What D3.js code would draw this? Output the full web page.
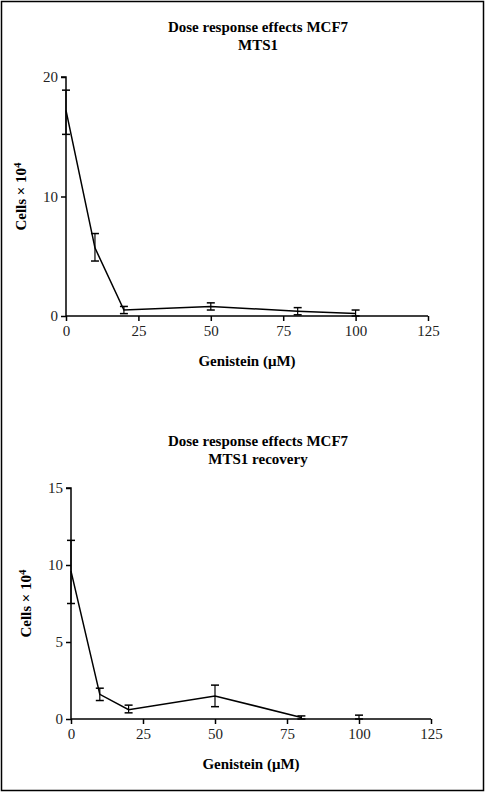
<!DOCTYPE html>
<html><head><meta charset="utf-8">
<script src="https://cdn.jsdelivr.net/npm/d3@7"></script>
<style>body{margin:0;background:#fff}svg{display:block}svg text{font-family:"Liberation Serif","DejaVu Serif",serif}</style>
</head><body>
<script>
const doses = [0, 10, 20, 50, 80, 100];
const xTicks = [0, 25, 50, 75, 100, 125];
const meanA = [17.2, 5.7, 0.5, 0.8, 0.4, 0.2];
const lowA = [15.2, 4.6, 0.2, 0.5, 0.1, 0.0];
const highA = [18.9, 6.9, 0.8, 1.1, 0.7, 0.5];
const yTicksA = [0, 10, 20];
const meanB = [9.6, 1.6, 0.6, 1.5, 0.1, 0.0];
const lowB = [7.5, 1.2, 0.4, 0.8, 0.0, 0.0];
const highB = [11.6, 2.0, 0.9, 2.2, 0.2, 0.25];
const yTicksB = [0, 5, 10, 15];

const svg = d3.select("body").append("svg").attr("width", 485).attr("height", 792);
svg.append("rect").attr("x", 1.5).attr("y", 1.5).attr("width", 482).attr("height", 789)
  .attr("fill", "none").attr("stroke", "#000").attr("stroke-width", 1.5);

function panel(o) {
  const x = d3.scaleLinear().domain([0, 125]).range([o.left, o.right]);
  const y = d3.scaleLinear().domain([0, o.ymax]).range([o.bottom, o.top]);
  const g = svg.append("g");

  o.title.forEach((t, i) => g.append("text").attr("x", 258).attr("y", o.titleY + i * 18)
    .attr("text-anchor", "middle").attr("font-weight", "bold").attr("font-size", 15).text(t));

  const xa = g.append("g").attr("transform", `translate(0,${o.bottom})`)
    .call(d3.axisBottom(x).tickValues(xTicks).tickSize(5).tickPadding(4));
  const ya = g.append("g").attr("transform", `translate(${o.left},0)`)
    .call(d3.axisLeft(y).tickValues(o.yTicks).tickSize(5).tickPadding(3));
  [xa, ya].forEach(a => {
    a.attr("font-family", null);
    a.selectAll("text").attr("font-size", 15).attr("fill", "#222");
    a.selectAll("line,path").attr("stroke", "#000").attr("stroke-width", 1.5);
  });
  ya.select(".domain").attr("d", `M-5,${o.top}H0V${o.bottom}`);
  xa.select(".domain").attr("d", `M${o.left},0H${o.right}`);

  g.append("text").attr("x", (o.left + o.right) / 2).attr("y", o.bottom + 50)
    .attr("text-anchor", "middle").attr("font-weight", "bold").attr("font-size", 15).text("Genistein (μM)");
  const yl = g.append("text").attr("transform", `translate(${o.left - 40},${(o.top + o.bottom) / 2}) rotate(-90)`)
    .attr("text-anchor", "middle").attr("font-weight", "bold").attr("font-size", 15);
  yl.append("tspan").text("Cells × 10");
  yl.append("tspan").attr("dy", -5).attr("font-size", 11).text("4");

  const pts = doses.map((d, i) => ({ d, m: o.mean[i], lo: o.low[i], hi: o.high[i] }));
  g.append("path").datum(pts.slice(0, o.lineN))
    .attr("d", d3.line().x(p => x(p.d)).y(p => y(p.m)))
    .attr("fill", "none").attr("stroke", "#000").attr("stroke-width", 1.5);
  const eb = g.selectAll(".eb").data(pts).join("g");
  eb.append("line").attr("x1", p => x(p.d)).attr("x2", p => x(p.d))
    .attr("y1", p => y(p.lo)).attr("y2", p => y(p.hi)).attr("stroke", "#000").attr("stroke-width", 1.2);
  ["lo", "hi"].forEach(k => eb.append("line")
    .attr("x1", p => x(p.d) - 4).attr("x2", p => x(p.d) + 4)
    .attr("y1", p => y(p[k])).attr("y2", p => y(p[k])).attr("stroke", "#000").attr("stroke-width", 1.5));
}

panel({ title: ["Dose response effects MCF7", "MTS1"], titleY: 32, left: 66, right: 428, top: 77, bottom: 316,
  ymax: 20, yTicks: yTicksA, mean: meanA, low: lowA, high: highA, lineN: 6 });
panel({ title: ["Dose response effects MCF7", "MTS1 recovery"], titleY: 446, left: 71, right: 431, top: 488, bottom: 719,
  ymax: 15, yTicks: yTicksB, mean: meanB, low: lowB, high: highB, lineN: 5 });
</script>
</body></html>
